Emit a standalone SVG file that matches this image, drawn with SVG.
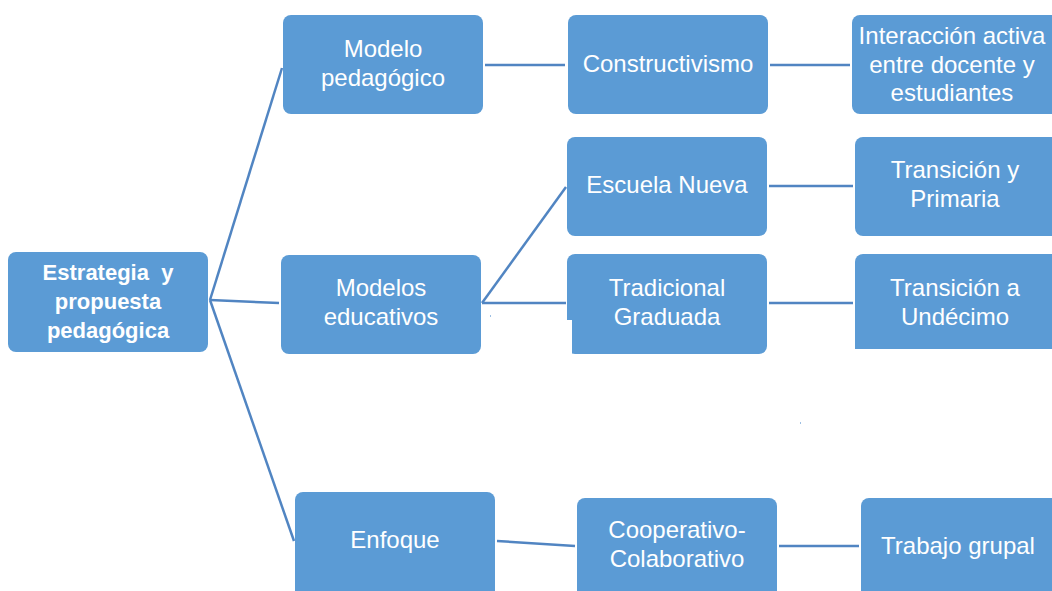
<svg xmlns="http://www.w3.org/2000/svg" width="1052" height="591" viewBox="0 0 1052 591">
<style>
.box{fill:#5B9BD5;}
.t{font-family:"Liberation Sans",Arial,sans-serif;font-size:24px;fill:#FFFFFF;text-anchor:middle;white-space:pre;}
.b{font-weight:bold;font-size:22px;}
.c{stroke:#5185C2;stroke-width:2.5;fill:none;}
</style>
<rect width="1052" height="591" fill="#FFFFFF"/>
<g id="connectors">
<line class="c" x1="210" y1="300" x2="282" y2="68"/>
<line class="c" x1="210" y1="300" x2="279" y2="303"/>
<line class="c" x1="210" y1="300" x2="294" y2="541"/>
<line class="c" x1="485" y1="65" x2="565" y2="65"/>
<line class="c" x1="770" y1="65" x2="850" y2="65"/>
<line class="c" x1="482" y1="303" x2="566" y2="187"/>
<line class="c" x1="482" y1="303" x2="566" y2="303"/>
<line class="c" x1="769" y1="186" x2="853" y2="186"/>
<line class="c" x1="769" y1="303" x2="853" y2="303"/>
<line class="c" x1="497" y1="541" x2="575" y2="546"/>
<line class="c" x1="779" y1="546" x2="859" y2="546"/>
</g>
<g id="root">
<rect class="box" x="8" y="252" width="200" height="100" rx="8"/>
<text class="t b" x="108" y="280" xml:space="preserve">Estrategia  y</text>
<text class="t b" x="108" y="309">propuesta</text>
<text class="t b" x="108" y="338">pedagógica</text>
</g>
<g id="modelo-pedagogico">
<rect class="box" x="283" y="15" width="200" height="99" rx="8"/>
<text class="t" x="383" y="57">Modelo</text>
<text class="t" x="383" y="86">pedagógico</text>
</g>
<g id="constructivismo">
<rect class="box" x="568" y="15" width="200" height="99" rx="8"/>
<text class="t" x="668" y="72">Constructivismo</text>
</g>
<g id="interaccion">
<rect class="box" x="852" y="15" width="208" height="99" rx="8"/>
<text class="t" x="952" y="44">Interacción activa</text>
<text class="t" x="952" y="73">entre docente y</text>
<text class="t" x="952" y="101">estudiantes</text>
</g>
<g id="escuela-nueva">
<rect class="box" x="567" y="137" width="200" height="99" rx="8"/>
<text class="t" x="667" y="193">Escuela Nueva</text>
</g>
<g id="transicion-primaria">
<rect class="box" x="855" y="137" width="205" height="99" rx="8"/>
<text class="t" x="955" y="178">Transición y</text>
<text class="t" x="955" y="207">Primaria</text>
</g>
<g id="modelos-educativos">
<rect class="box" x="281" y="255" width="200" height="99" rx="8"/>
<text class="t" x="381" y="296">Modelos</text>
<text class="t" x="381" y="325">educativos</text>
</g>
<g id="tradicional-graduada">
<rect class="box" x="567" y="254" width="200" height="100" rx="8"/>
<rect x="566" y="320" width="6" height="36" fill="#FFFFFF"/>
<text class="t" x="667" y="296">Tradicional</text>
<text class="t" x="667" y="325">Graduada</text>
</g>
<g id="transicion-undecimo">
<rect class="box" x="855" y="254" width="205" height="95" rx="8"/>
<rect x="855" y="335" width="205" height="14" class="box"/>
<text class="t" x="955" y="296">Transición a</text>
<text class="t" x="955" y="325">Undécimo</text>
</g>
<g id="enfoque">
<rect class="box" x="295" y="492" width="200" height="110" rx="8"/>
<text class="t" x="395" y="548">Enfoque</text>
</g>
<g id="cooperativo">
<rect class="box" x="577" y="498" width="200" height="104" rx="8"/>
<text class="t" x="677" y="538">Cooperativo-</text>
<text class="t" x="677" y="567">Colaborativo</text>
</g>
<g id="trabajo-grupal">
<rect class="box" x="861" y="498" width="199" height="104" rx="8"/>
<text class="t" x="958" y="554">Trabajo grupal</text>
</g>
<rect x="490" y="315" width="1" height="2" fill="#9DBFE3"/>
<rect x="800" y="422" width="1" height="2" fill="#9DBFE3"/>
</svg>
